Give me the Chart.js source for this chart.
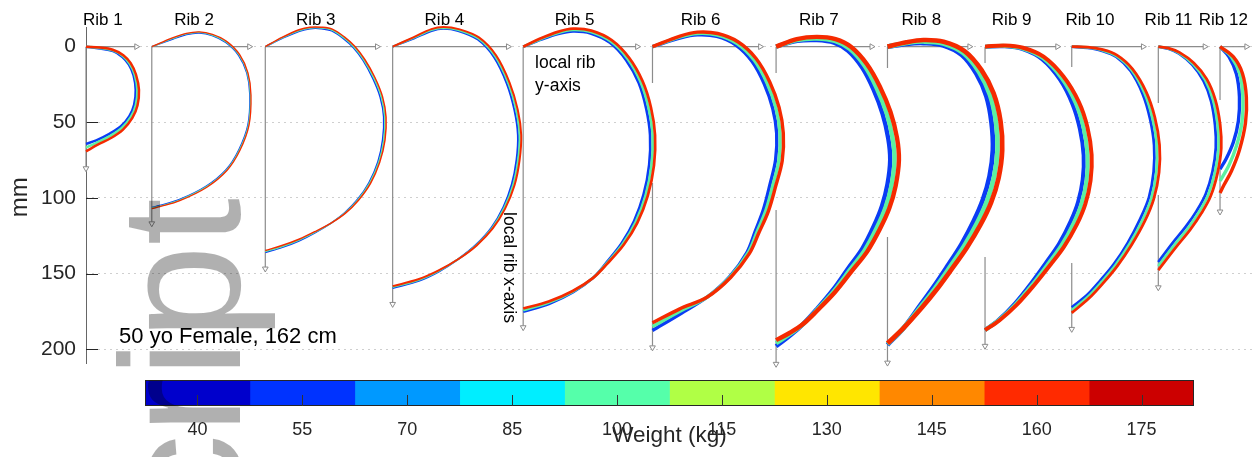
<!DOCTYPE html>
<html>
<head>
<meta charset="utf-8">
<script src="https://cdn.jsdelivr.net/npm/chart.js@4.4.1/dist/chart.umd.min.js"></script>
<style>
  body { margin: 0; background: #fff; }
  #wrap { position: relative; width: 1258px; height: 457px; overflow: hidden; }
  #wrap canvas { position: absolute; left: 0; }
</style>
</head>
<body>
<div id="wrap">
  <canvas id="ribs" width="1258" height="457" style="top:0"></canvas>
  <canvas id="colorbar" width="1258" height="85" style="top:372px"></canvas>
  <canvas id="stamp" width="1258" height="457" style="top:0;pointer-events:none"></canvas>
</div>
<script>
const ribNames = ['Rib 1', 'Rib 2', 'Rib 3', 'Rib 4', 'Rib 5', 'Rib 6', 'Rib 7', 'Rib 8', 'Rib 9', 'Rib 10', 'Rib 11', 'Rib 12'];
const yTicks = [0, 50, 100, 150, 200];
const weightTicks = [40, 55, 70, 85, 100, 115, 130, 145, 160, 175];
const weightBins = [[32.5, 47.5], [47.5, 62.5], [62.5, 77.5], [77.5, 92.5], [92.5, 107.5],
                    [107.5, 122.5], [122.5, 137.5], [137.5, 152.5], [152.5, 167.5], [167.5, 182.5]];
const curveWeights = [40, 107.5, 175];

// rib centrelines in the local rib frame (mm), one list per weight in curveWeights
const rib1 = [
  [[0,0],[9.3,1.2],[18.0,3.0],[24.2,6.8],[28.5,11.9],[31.6,19.0],[33.0,28.6],[32.0,38.3],[28.8,45.9],[23.0,52.8],[15.2,57.8],[6.8,62.0],[0,64.3]],
  [[0,0],[9.3,0.9],[17.9,2.5],[24.5,6.2],[29.1,11.4],[32.4,18.7],[34.1,28.6],[33.1,38.6],[29.8,46.5],[23.8,53.8],[15.9,59.1],[7.3,63.4],[0,66.7]],
  [[0,0],[9.3,0.6],[17.8,2.0],[24.8,5.6],[29.7,10.9],[33.2,18.4],[35.2,28.6],[34.2,38.9],[30.8,47.1],[24.6,54.8],[16.6,60.4],[7.8,64.8],[0,69.3]]
];
const rib2 = [
  [[0,0],[14.1,-5.0],[23.1,-8.0],[31.6,-9.0],[40.1,-7.3],[49.1,-2.7],[57.6,5.7],[63.1,17.5],[65.1,31.9],[63.8,51.7],[57.8,68.1],[49.3,81.3],[36.2,92.1],[18.4,101.0],[5.2,105.0],[0,106.3]],
  [[0,0],[13.9,-5.4],[23.0,-8.4],[31.6,-9.4],[40.2,-7.7],[49.4,-3.1],[58.0,5.5],[63.5,17.4],[65.5,31.9],[64.2,51.8],[58.2,68.3],[49.6,81.6],[36.4,92.5],[18.5,101.4],[5.3,105.4],[0,106.7]],
  [[0,0],[13.7,-5.8],[22.9,-8.8],[31.6,-9.8],[40.3,-8.1],[49.7,-3.5],[58.4,5.3],[63.9,17.3],[65.9,31.9],[64.6,51.9],[58.6,68.5],[49.9,81.9],[36.6,92.9],[18.6,101.8],[5.4,105.8],[0,107.1]]
];
const rib3 = [
  [[0,0],[11.3,-5.5],[22.6,-10.2],[29.8,-11.9],[37.0,-11.9],[44.1,-10.4],[51.9,-5.3],[58.4,0.6],[64.9,9.1],[71.4,21.0],[76.3,33.4],[78.6,46.5],[77.9,61.6],[74.8,76.1],[68.9,89.8],[61.2,101.1],[52.7,109.8],[43.7,116.6],[33.3,122.9],[22.7,128.3],[11.4,132.7],[0,136.1]],
  [[0,0],[11.2,-5.8],[22.5,-10.7],[29.8,-12.4],[37.0,-12.4],[44.3,-11.0],[52.3,-5.8],[58.9,0.2],[65.5,8.8],[72.1,20.7],[77.1,33.3],[79.4,46.5],[78.7,61.7],[75.4,76.3],[69.4,90.1],[61.5,101.4],[52.9,110.0],[43.7,116.6],[33.1,122.6],[22.5,127.8],[11.2,132.1],[0,135.5]],
  [[0,0],[11.1,-6.1],[22.4,-11.2],[29.7,-12.9],[37.1,-12.9],[44.5,-11.6],[52.7,-6.3],[59.4,-0.2],[66.1,8.5],[72.8,20.4],[77.9,33.2],[80.2,46.5],[79.5,61.8],[76.0,76.5],[69.9,90.4],[61.8,101.7],[53.1,110.2],[43.7,116.6],[32.9,122.3],[22.3,127.3],[11.0,131.5],[0,134.8]]
];
const rib4 = [
  [[0,0],[14.1,-5.4],[25.9,-10.4],[33.7,-11.8],[43.5,-10.4],[56.5,-4.7],[67.4,7.1],[75.8,24.4],[80.9,42.1],[83.2,58.4],[82.3,74.7],[79.1,91.2],[73.5,106.3],[65.7,119.6],[55.4,131.0],[43.7,140.4],[30.6,148.7],[17.4,154.8],[0,159.6]],
  [[0,0],[13.9,-5.8],[25.8,-11.0],[33.7,-12.4],[43.7,-11.0],[56.9,-5.4],[68.1,6.5],[76.7,24.0],[82.0,41.9],[84.3,58.4],[83.3,74.9],[80.0,91.5],[74.1,106.7],[66.1,119.9],[55.6,131.2],[43.7,140.4],[30.4,148.4],[17.2,154.3],[0,158.9]],
  [[0,0],[13.7,-6.2],[25.7,-11.6],[33.7,-13.0],[43.9,-11.6],[57.3,-6.1],[68.8,5.9],[77.6,23.6],[83.1,41.7],[85.4,58.4],[84.3,75.1],[80.9,91.8],[74.7,107.1],[66.5,120.2],[55.8,131.4],[43.7,140.4],[30.2,148.1],[17.0,153.8],[0,158.3]]
];
const rib5 = [
  [[0,0],[12.1,-4.7],[23.3,-8.4],[33.1,-10.1],[44.7,-8.8],[57.6,-2.6],[68.4,8.9],[76.7,23.9],[81.7,40.8],[84.3,58.4],[83.7,78.1],[80.0,97.7],[73.7,115.3],[65.4,130.0],[55.3,142.8],[46.3,153.0],[33.3,162.3],[17.5,169.9],[0,175.3]],
  [[0,0],[11.9,-5.1],[23.1,-9.1],[33.1,-11.0],[45.0,-9.7],[58.2,-3.4],[69.4,8.1],[78.0,23.3],[83.3,40.5],[86.0,58.4],[85.3,78.2],[81.4,98.1],[74.7,115.9],[66.1,130.5],[55.6,143.1],[46.3,153.0],[33.1,161.9],[17.2,169.2],[0,174.2]],
  [[0,0],[11.7,-5.5],[22.9,-9.8],[33.1,-11.9],[45.3,-10.6],[58.8,-4.3],[70.4,7.4],[79.3,22.8],[84.9,40.2],[87.6,58.4],[86.9,78.4],[82.8,98.5],[75.8,116.5],[66.8,131.0],[55.9,143.4],[46.3,153.0],[32.9,161.5],[16.9,168.5],[0,173.1]]
];
const rib6 = [
  [[0,0],[18.7,-5.8],[29.8,-7.8],[42.7,-6.8],[55.4,-1.1],[66.2,9.8],[74.3,24.7],[79.9,40.9],[82.5,57.1],[81.8,74.7],[78.1,90.9],[73.8,107.3],[68.3,121.9],[62.8,135.9],[51.3,152.0],[36.4,165.5],[19.2,176.2],[0,187.6]],
  [[0,0],[18.5,-6.4],[29.8,-8.7],[43.0,-7.7],[56.2,-2.1],[67.5,8.8],[76.1,24.0],[82.0,40.5],[84.7,57.1],[84.0,74.9],[80.0,91.5],[75.4,108.0],[69.4,122.6],[63.5,136.4],[51.6,152.3],[36.4,165.5],[18.5,174.8],[0,185.1]],
  [[0,0],[18.3,-7.0],[29.8,-9.6],[43.3,-8.7],[57.0,-3.1],[68.8,7.8],[77.9,23.3],[84.1,40.2],[86.9,57.1],[86.2,75.2],[81.9,92.0],[77.0,108.7],[70.6,123.2],[64.2,137.0],[51.9,152.6],[36.4,165.5],[17.8,173.5],[0,182.6]]
];
const rib7 = [
  [[0,0],[14.1,-3.8],[27.1,-4.3],[38.5,-2.6],[47.9,2.8],[57.3,14.0],[64.7,28.3],[70.8,44.6],[74.5,60.6],[75.8,74.8],[74.0,90.9],[70.4,105.1],[64.8,118.9],[57.3,133.5],[47.7,146.8],[37.6,161.0],[26.8,173.8],[17.9,183.4],[9.7,190.7],[0,198.0]],
  [[0,0],[13.9,-4.4],[27.1,-5.4],[39.0,-3.8],[48.9,1.5],[58.9,12.8],[66.8,27.3],[73.4,43.9],[77.4,60.4],[78.7,74.9],[76.7,91.5],[72.8,106.0],[66.8,119.9],[58.9,134.5],[48.9,147.7],[38.4,161.6],[27.1,174.1],[17.9,183.4],[9.3,190.0],[0,196.0]],
  [[0,0],[13.7,-5.0],[27.1,-6.5],[39.5,-5.0],[49.9,0.2],[60.4,11.6],[68.9,26.3],[76.0,43.2],[80.3,60.2],[81.6,75.1],[79.4,92.1],[75.2,106.9],[68.8,120.9],[60.5,135.5],[50.1,148.6],[39.2,162.2],[27.4,174.4],[17.9,183.4],[8.9,189.3],[0,194.0]]
];
const rib8 = [
  [[0,0],[12.7,-1.9],[23.8,-2.4],[36.7,-1.0],[49.4,5.5],[59.1,18.0],[65.7,32.9],[69.1,50.3],[70.0,68.2],[67.8,85.6],[63.4,101.1],[57.2,115.5],[49.1,130.7],[39.6,145.4],[30.6,158.8],[21.8,170.9],[10.6,186.1],[0,197.1]],
  [[0,0],[12.6,-2.4],[23.8,-3.4],[37.0,-2.1],[50.3,4.2],[60.8,16.7],[68.1,31.9],[72.1,49.8],[73.1,68.3],[70.8,86.2],[66.1,102.1],[59.5,116.6],[50.9,131.8],[41.0,146.4],[31.7,159.6],[22.5,171.5],[10.6,186.1],[0,196.6]],
  [[0,0],[12.5,-2.9],[23.8,-4.4],[37.3,-3.3],[51.2,2.9],[62.5,15.5],[70.5,30.9],[75.1,49.3],[76.2,68.4],[73.8,86.8],[68.8,103.1],[61.8,117.7],[52.7,132.9],[42.4,147.4],[32.8,160.4],[23.2,172.1],[10.6,186.1],[0,196.1]]
];
const rib9 = [
  [[0,0],[13.2,-0.2],[25.0,1.7],[37.9,8.3],[49.7,21.7],[58.2,38.2],[63.0,54.4],[65.5,71.7],[64.9,87.8],[61.8,102.7],[56.8,115.7],[49.3,130.2],[41.0,142.2],[30.8,156.3],[20.0,169.7],[9.1,180.6],[0,187.4]],
  [[0,0],[13.2,-0.5],[25.1,1.2],[38.4,7.5],[50.9,20.7],[60.2,37.2],[65.5,53.8],[68.1,71.6],[67.5,88.2],[64.2,103.4],[58.9,116.6],[50.9,131.2],[42.3,143.1],[31.7,157.0],[20.5,170.2],[9.3,180.8],[0,187.4]],
  [[0,0],[13.2,-0.8],[25.2,0.7],[38.9,6.6],[52.1,19.7],[62.2,36.3],[68.0,53.2],[70.8,71.6],[70.1,88.5],[66.6,104.1],[61.0,117.5],[52.5,132.2],[43.6,144.0],[32.6,157.7],[21.0,170.7],[9.5,181.0],[0,187.4]]
];
const rib10 = [
  [[0,0],[10.6,0.8],[19.7,2.6],[29.6,6.7],[39.1,16.1],[47.1,31.2],[52.0,47.6],[54.7,65.1],[54.4,82.7],[51.3,99.6],[45.5,113.8],[37.2,129.7],[28.1,143.6],[18.9,154.7],[9.8,164.6],[0,172.3]],
  [[0,0],[10.6,0.5],[19.8,2.2],[29.8,6.2],[39.7,15.4],[48.3,30.6],[53.6,47.2],[56.5,65.0],[56.2,82.9],[52.9,100.1],[47.0,114.6],[38.4,130.5],[29.1,144.4],[19.8,155.6],[10.6,165.5],[0,174.2]],
  [[0,0],[10.6,0.3],[19.9,1.8],[30.0,5.6],[40.3,14.7],[49.5,30.0],[55.2,46.7],[58.3,64.9],[58.0,83.1],[54.5,100.6],[48.5,115.4],[39.6,131.3],[30.1,145.2],[20.7,156.5],[11.4,166.4],[0,176.0]]
];
const rib11 = [
  [[0,0],[6.6,1.4],[13.8,4.6],[22.6,12.0],[30.1,22.7],[35.0,35.8],[37.7,52.0],[38.2,66.9],[36.0,82.5],[31.5,97.4],[25.6,108.4],[18.4,118.8],[9.3,130.0],[0,142.4]],
  [[0,0],[6.6,1.2],[13.9,4.2],[23.1,11.4],[31.1,22.0],[36.4,35.3],[39.4,51.8],[40.0,67.0],[37.7,82.9],[33.1,98.1],[27.1,109.3],[19.8,119.9],[10.6,131.2],[0,145.0]],
  [[0,0],[6.6,1.0],[14.0,3.8],[23.6,10.8],[32.1,21.3],[37.8,34.8],[41.1,51.6],[41.8,67.1],[39.4,83.3],[34.8,98.8],[28.6,110.2],[21.2,121.0],[11.9,132.4],[0,147.7]]
];
const rib12 = [
  [[0,0],[6.0,6.8],[10.9,18.1],[12.9,33.3],[12.2,49.1],[8.9,63.0],[4.0,74.3],[0,80.9]],
  [[0,0],[7.6,6.8],[13.2,18.1],[15.2,33.3],[14.6,49.8],[10.9,65.7],[6.0,78.2],[0,88.8]],
  [[0,0],[8.9,6.8],[14.9,17.7],[17.5,33.3],[16.9,50.5],[12.9,68.3],[7.6,82.2],[2.6,91.5],[0,96.8]]
];
const ribs = [rib1, rib2, rib3, rib4, rib5, rib6, rib7, rib8, rib9, rib10, rib11, rib12];

// local rib axes (mm): arrow lengths and the stretch hidden behind the previous rib
const localYAxisLen = [35.7, 67.0, 76.5, 78.9, 78.0, 73.8, 65.7, 56.7, 50.3, 49.6, 33.1, 19.8];
const localXAxisLen = [82.7, 119.1, 149.0, 172.4, 187.8, 201.1, 212.0, 211.2, 200.1, 188.9, 161.4, 111.3];
const localXAxisGap = [null, null, null, null, null, [24.0, 90.1], [17.4, 108.0], [14.1, 125.9],
                       [10.8, 139.1], [13.4, 143.1], [37.2, 98.1], [35.3, 80.2]];

// layout (mm along the shared axis) and styles
const ribOrigin = [0, 43.7, 119.1, 203.7, 290.4, 376.3, 458.4, 532.4, 597.2, 654.8, 712.3, 753.3];
const ribLabelX = [11.2, 71.8, 152.6, 238.1, 324.5, 408.3, 486.8, 554.9, 614.9, 666.9, 719.1, 755.5];
const ribLineWidth = [2.5, 1.3, 1.5, 2.0, 2.7, 3.4, 4.4, 4.7, 4.0, 2.8, 2.8, 3.4];
const curveColors = ['#0a3cf5', '#5cf0a0', '#f52a00'];
const binColors = ['#0000cc', '#0033ff', '#0099ff', '#00eeff', '#55ffaa',
                   '#b0ff45', '#ffe600', '#ff8800', '#ff2a00', '#cc0000'];
const AXIS_GREY = '#8c8c8c';
const ARROW_R = 3.3;      // px
const ARROW_MM = 2.2;     // arrow radius expressed in mm

Chart.defaults.font.family = "'Liberation Sans', Arial, sans-serif";

const datasets = [];
ribs.forEach((rib, r) => {
  const ox = ribOrigin[r];
  const arrowStyle = (rot) => ({
    showLine: true, tension: 0, borderColor: AXIS_GREY, borderWidth: 1.2, clip: false, order: 10,
    pointStyle: 'triangle', pointRotation: rot, pointBackgroundColor: '#ffffff',
    pointBorderColor: AXIS_GREY, pointBorderWidth: 1,
    pointRadius: (c) => c.dataIndex === c.dataset.data.length - 1 ? ARROW_R : 0
  });
  datasets.push(Object.assign({
    label: ribNames[r] + ' local y-axis',
    data: [{x: ox, y: 0}, {x: ox + localYAxisLen[r] - ARROW_MM, y: 0}]
  }, arrowStyle(90)));

  const gap = localXAxisGap[r];
  const xAxisPts = gap
    ? [{x: ox, y: 0}, {x: ox, y: gap[0]}, {x: ox, y: null}, {x: ox, y: gap[1]}, {x: ox, y: localXAxisLen[r] - ARROW_MM}]
    : [{x: ox, y: 0}, {x: ox, y: localXAxisLen[r] - ARROW_MM}];
  datasets.push(Object.assign({ label: ribNames[r] + ' local x-axis', data: xAxisPts }, arrowStyle(180)));

  rib.forEach((curve, c) => {
    datasets.push({
      label: ribNames[r] + ' ' + curveWeights[c] + ' kg',
      data: curve.map(p => ({x: ox + p[0], y: p[1]})),
      showLine: true, tension: 0.35, clip: false,
      borderColor: curveColors[c], borderWidth: ribLineWidth[r],
      borderJoinStyle: 'round', pointRadius: 0,
      order: 3 - c
    });
  });
});

const ribDecor = {
  id: 'ribDecor',
  beforeDatasetsDraw(chart) {
    const {ctx, chartArea: a, scales: {y}} = chart;
    ctx.save();
    ctx.strokeStyle = '#666666';
    ctx.lineWidth = 1;
    ctx.beginPath();
    ctx.moveTo(a.left + 0.5, a.top);
    ctx.lineTo(a.left + 0.5, a.bottom);
    ctx.stroke();
    ctx.strokeStyle = '#262626';
    yTicks.forEach(v => {
      const py = Math.round(y.getPixelForValue(v)) + 0.5;
      ctx.beginPath();
      ctx.moveTo(a.left, py);
      ctx.lineTo(a.left + 12, py);
      ctx.stroke();
    });
    ctx.restore();
  },
  afterDatasetsDraw(chart) {
    const {ctx, chartArea: a, scales: {x, y}} = chart;
    ctx.save();
    ctx.fillStyle = '#000000';
    ctx.textBaseline = 'alphabetic';

    ctx.font = "17px 'Liberation Sans', Arial, sans-serif";
    ctx.textAlign = 'center';
    ribNames.forEach((name, i) => ctx.fillText(name, x.getPixelForValue(ribLabelX[i]), 24.5));

    ctx.font = "17.5px 'Liberation Sans', Arial, sans-serif";
    ctx.textAlign = 'left';
    ctx.fillText('local rib', x.getPixelForValue(298.3), y.getPixelForValue(14.1));
    ctx.fillText('y-axis', x.getPixelForValue(298.3), y.getPixelForValue(29.3));

    ctx.save();
    ctx.translate(x.getPixelForValue(280.8), y.getPixelForValue(146.0));
    ctx.rotate(Math.PI / 2);
    ctx.textAlign = 'center';
    ctx.textBaseline = 'middle';
    ctx.fillText('local rib x-axis', 0, 0);
    ctx.restore();

    ctx.font = "22px 'Liberation Sans', Arial, sans-serif";
    ctx.textAlign = 'left';
    ctx.fillText('50 yo Female, 162 cm', x.getPixelForValue(22.0), y.getPixelForValue(195.6));

    ctx.save();
    ctx.fillStyle = '#262626';
    ctx.font = "24px 'Liberation Sans', Arial, sans-serif";
    ctx.translate(a.left - 59, y.getPixelForValue(99.6));
    ctx.rotate(-Math.PI / 2);
    ctx.textAlign = 'center';
    ctx.fillText('mm', 0, 0);
    ctx.restore();
    ctx.restore();
  }
};

new Chart(document.getElementById('ribs'), {
  type: 'scatter',
  data: { datasets },
  options: {
    responsive: false,
    animation: false,
    events: [],
    layout: { padding: { top: 27, bottom: 93, left: 0, right: 0 } },
    plugins: { legend: { display: false }, tooltip: { enabled: false } },
    scales: {
      x: { type: 'linear', min: 0, max: 775.2, display: false },
      y: {
        type: 'linear', reverse: true, min: -13, max: 209.8,
        afterBuildTicks: (s) => { s.ticks = yTicks.map(v => ({ value: v })); },
        afterFit: (s) => { s.width = 86; },
        grid: { color: '#cfcfcf', lineWidth: 1, drawTicks: false },
        border: { display: false, dash: [2, 4] },
        ticks: { color: '#262626', font: { size: 21 }, padding: 10 }
      }
    }
  },
  plugins: [ribDecor]
});

const colorbarDecor = {
  id: 'colorbarDecor',
  afterDraw(chart) {
    const {ctx, chartArea: a, scales: {x}} = chart;
    ctx.save();
    ctx.strokeStyle = '#262626';
    ctx.lineWidth = 1;
    ctx.strokeRect(a.left + 0.5, a.top + 0.5, a.right - a.left - 1, a.bottom - a.top - 1);
    ctx.strokeStyle = '#333333';
    weightTicks.forEach(v => {
      const px = Math.round(x.getPixelForValue(v)) + 0.5;
      ctx.beginPath();
      ctx.moveTo(px, a.bottom);
      ctx.lineTo(px, a.bottom - 11);
      ctx.stroke();
    });
    ctx.fillStyle = '#262626';
    ctx.textAlign = 'center';
    ctx.textBaseline = 'alphabetic';
    ctx.font = "18px 'Liberation Sans', Arial, sans-serif";
    weightTicks.forEach(v => ctx.fillText(String(v), x.getPixelForValue(v), 63));
    ctx.font = "22.5px 'Liberation Sans', Arial, sans-serif";
    ctx.fillText('Weight (kg)', (a.left + a.right) / 2, 69.5);
    ctx.restore();
  }
};

new Chart(document.getElementById('colorbar'), {
  type: 'bar',
  data: {
    labels: ['Weight'],
    datasets: weightBins.map((bin, i) => ({
      label: weightTicks[i] + ' kg',
      data: [bin],
      backgroundColor: binColors[i],
      borderWidth: 0,
      grouped: false,
      barPercentage: 1,
      categoryPercentage: 1
    }))
  },
  options: {
    indexAxis: 'y',
    responsive: false,
    animation: false,
    events: [],
    layout: { padding: { top: 8, bottom: 51, left: 145, right: 64 } },
    plugins: { legend: { display: false }, tooltip: { enabled: false } },
    scales: {
      x: { type: 'linear', min: 32.5, max: 182.5, display: false },
      y: { display: false }
    }
  },
  plugins: [colorbarDecor]
});

// watermark stamped over the figure
const sctx = document.getElementById('stamp').getContext('2d');
sctx.save();
sctx.fillStyle = 'rgba(0,0,0,0.31)';
sctx.font = "170px 'Liberation Sans', Arial, sans-serif";
sctx.translate(240, 198);
sctx.rotate(-Math.PI / 2);
sctx.textAlign = 'right';
sctx.textBaseline = 'alphabetic';
sctx.fillText('Manuscript', 0, 0);
sctx.restore();
</script>
</body>
</html>
